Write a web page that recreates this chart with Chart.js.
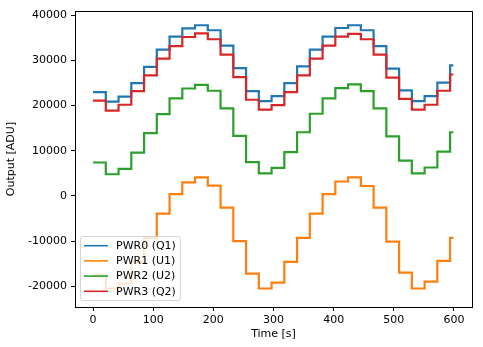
<!DOCTYPE html>
<html>
<head>
<meta charset="utf-8">
<script src="https://cdn.jsdelivr.net/npm/chart.js@4/dist/chart.umd.min.js"></script>
<style>
  body { margin: 0; background: #fff; }
  canvas { display: block; }
</style>
</head>
<body>
<canvas id="pwr_chart" width="483" height="347"></canvas>
<script>
// instantes de início de cada degrau [s]
var stepTimes = [0, 21.2, 42.4, 63.6, 84.8, 106.0, 127.2, 148.4, 169.6, 190.8, 212.0, 233.2, 254.4, 275.6,
  296.8, 318.0, 339.2, 360.4, 381.6, 402.8, 424.0, 445.2, 466.4, 487.6, 508.8, 530.0, 551.2, 572.4, 593.6];
var endTime = 599;

// nível de cada degrau [ADU]
var pwr0 = [23000, 20900, 22000, 25000, 28600, 32400, 35300, 37100, 37800, 36700, 33300, 28300, 23200, 21000,
  22100, 25000, 28700, 32400, 35300, 37200, 37800, 36700, 33200, 28200, 23400, 21000, 22100, 25100, 28900];
var pwr1 = [-17500, -20500, -19400, -14600, -9300, -3900, 400, 3000, 4100, 2300, -2600, -10000, -17200, -20500,
  -19200, -14600, -9300, -3900, 400, 3200, 4100, 2200, -2600, -10100, -17000, -20500, -19000, -14400, -9300];
var pwr2 = [7400, 4800, 6000, 9600, 13900, 18100, 21600, 23800, 24600, 23300, 19400, 13300, 7500, 5000,
  6200, 9700, 14100, 18200, 21600, 23900, 24700, 23200, 19400, 13200, 7800, 5000, 6300, 9800, 14100];
var pwr3 = [21100, 18900, 20200, 23200, 26700, 30400, 33200, 35200, 36000, 34700, 31300, 26300, 21300, 19100,
  20100, 23000, 26700, 30400, 33300, 35300, 35900, 34700, 31300, 26200, 21500, 19100, 20200, 23300, 26900];

var seriesNames = ['PWR0 (Q1)', 'PWR1 (U1)', 'PWR2 (U2)', 'PWR3 (Q2)'];
var seriesColors = ['#1f77b4', '#ff7f0e', '#2ca02c', '#d62728'];

var xTicks = [0, 100, 200, 300, 400, 500, 600];
var yTicks = [-20000, -10000, 0, 10000, 20000, 30000, 40000];

var fontSpec = { family: 'DejaVu Sans', size: 11 };

// monta os pontos {x, y} de uma série em degraus
function toPoints(levels) {
  var pts = stepTimes.map(function(t, i) { return { x: t, y: levels[i] }; });
  pts.push({ x: endTime, y: levels[levels.length - 1] });
  return pts;
}

function makeDataset(i, levels) {
  return {
    label: seriesNames[i],
    data: toPoints(levels),
    borderColor: seriesColors[i],
    backgroundColor: seriesColors[i],
    borderWidth: 2.2,
    pointRadius: 0,
    stepped: 'before',
    fill: false,
    order: 3 - i
  };
}

// fundo branco e moldura do gráfico
var framePlugin = {
  id: 'frame',
  beforeDraw: function(chart) {
    var ctx = chart.ctx;
    ctx.save();
    ctx.fillStyle = '#fff';
    ctx.fillRect(0, 0, chart.width, chart.height);
    ctx.restore();
  },
  afterDatasetsDraw: function(chart) {
    var a = chart.chartArea, ctx = chart.ctx;
    ctx.save();
    ctx.strokeStyle = '#000';
    ctx.lineWidth = 1;
    ctx.strokeRect(Math.round(a.left) + 0.5, Math.round(a.top) + 0.5,
      Math.round(a.right - a.left), Math.round(a.bottom - a.top));
    ctx.restore();
  }
};

// legenda no canto inferior esquerdo
var legendBoxPlugin = {
  id: 'legendBox',
  afterDraw: function(chart) {
    var ctx = chart.ctx;
    var x0 = 80.5, y0 = 236.5, w = 100, h = 64, r = 2.5;
    ctx.save();
    ctx.beginPath();
    ctx.roundRect(x0, y0, w, h, r);
    ctx.fillStyle = 'rgba(255,255,255,0.8)';
    ctx.fill();
    ctx.strokeStyle = 'rgba(204,204,204,0.8)';
    ctx.lineWidth = 1;
    ctx.stroke();
    ctx.font = '11px "DejaVu Sans"';
    ctx.textBaseline = 'middle';
    ctx.textAlign = 'left';
    chart.data.datasets.forEach(function(ds, i) {
      var yRow = 245.7 + i * 15.2;
      ctx.strokeStyle = ds.borderColor;
      ctx.lineWidth = 1.6;
      ctx.beginPath();
      ctx.moveTo(84, yRow);
      ctx.lineTo(108, yRow);
      ctx.stroke();
      ctx.fillStyle = '#000';
      ctx.fillText(ds.label, 116, yRow + 0.5);
    });
    ctx.restore();
  }
};

function plainLabel(v) { return String(v); }

function chartPwr() {
  var ctx = document.getElementById('pwr_chart').getContext('2d');
  var chartPwr = new Chart(ctx, {
    type: 'line',
    data: {
      datasets: [makeDataset(0, pwr0), makeDataset(1, pwr1), makeDataset(2, pwr2), makeDataset(3, pwr3)]
    },
    options: {
      responsive: false,
      animation: false,
      layout: { padding: { left: 0, top: 11, right: 11, bottom: 0 } },
      plugins: {
        legend: { display: false },
        tooltip: { enabled: false }
      },
      scales: {
        x: {
          type: 'linear',
          min: -30,
          max: 630,
          afterBuildTicks: function(s) { s.ticks = xTicks.map(function(v) { return { value: v }; }); },
          afterFit: function(s) { s.height = 40; },
          grid: { drawOnChartArea: false, drawTicks: true, tickLength: 4, color: '#000' },
          border: { display: false },
          ticks: { color: '#000', font: fontSpec, padding: 3, maxRotation: 0, autoSkip: false, callback: plainLabel },
          title: { display: true, text: 'Time [s]', color: '#000', font: fontSpec, padding: { top: 0, bottom: 6 } }
        },
        y: {
          type: 'linear',
          min: -24600,
          max: 40960,
          afterBuildTicks: function(s) { s.ticks = yTicks.map(function(v) { return { value: v }; }); },
          afterFit: function(s) { s.width = 75; },
          grid: { drawOnChartArea: false, drawTicks: true, tickLength: 4, color: '#000' },
          border: { display: false },
          ticks: { color: '#000', font: fontSpec, padding: 4, autoSkip: false, callback: plainLabel },
          title: { display: true, text: 'Output [ADU]', color: '#000', font: fontSpec, padding: { top: 5, bottom: 0 } }
        }
      }
    },
    plugins: [framePlugin, legendBoxPlugin]
  });
}

chartPwr();
</script>
</body>
</html>
